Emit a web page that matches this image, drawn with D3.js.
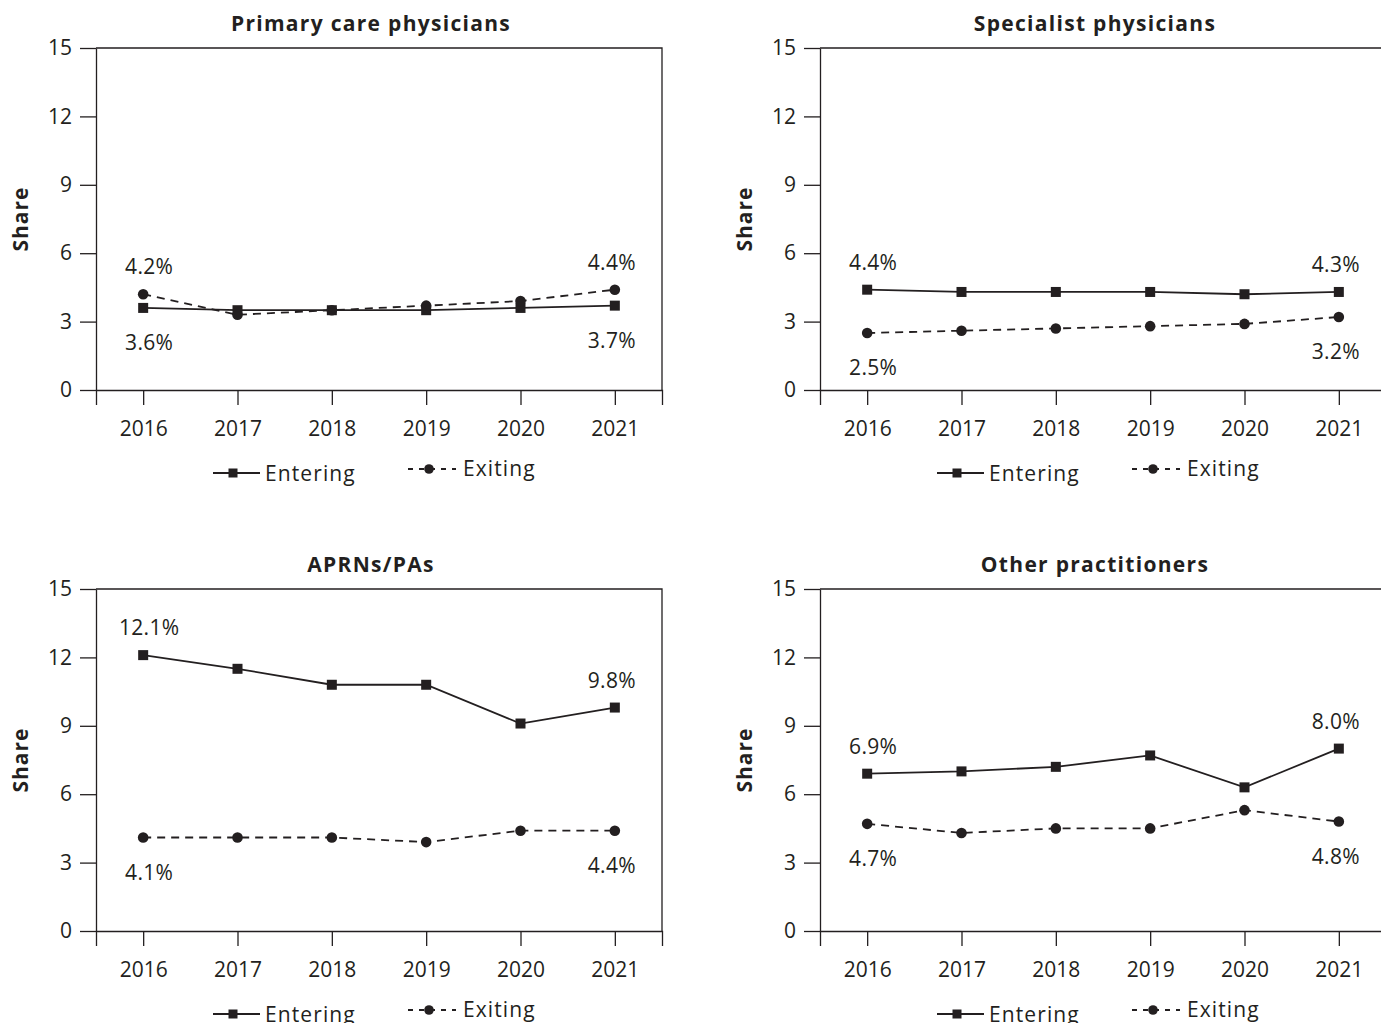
<!DOCTYPE html>
<html><head><meta charset="utf-8">
<script src="https://cdn.jsdelivr.net/npm/d3@7"></script>
<style>
html,body{margin:0;padding:0;background:#fff;}
svg{display:block;}
text{font-family:"Open Sans","Noto Sans",sans-serif;fill:#231f20;}
</style></head>
<body>
<script>
const years = ["2016","2017","2018","2019","2020","2021"];
const yTicks = [0,3,6,9,12,15];
const titles = ["Primary care physicians","Specialist physicians","APRNs/PAs","Other practitioners"];
const entering = [
  [3.6,3.5,3.5,3.5,3.6,3.7],
  [4.4,4.3,4.3,4.3,4.2,4.3],
  [12.1,11.5,10.8,10.8,9.1,9.8],
  [6.9,7.0,7.2,7.7,6.3,8.0]
];
const exiting = [
  [4.2,3.3,3.5,3.7,3.9,4.4],
  [2.5,2.6,2.7,2.8,2.9,3.2],
  [4.1,4.1,4.1,3.9,4.4,4.4],
  [4.7,4.3,4.5,4.5,5.3,4.8]
];
const seriesNames = ["Entering","Exiting"];

const W = 1381, H = 1023;
const ink = "#231f20";
const FONT = '"Open Sans","Noto Sans",sans-serif';
const svg = d3.select("body").append("svg").attr("width",W).attr("height",H);

const plotW = 566, plotH = 342;
const origins = [[96,48],[820,48],[96,589],[820,589]];

const x = d3.scalePoint().domain(years).range([0,plotW]).padding(0.5);
const y = d3.scaleLinear().domain([0,15]).range([plotH,0]);

function styleTicks(sel){
  sel.selectAll("path,line").attr("stroke",ink).attr("stroke-width",1.3);
  sel.selectAll("text").style("font-size","21px").style("font-weight","400")
    .style("font-family",FONT).attr("fill",ink);
}

origins.forEach((o,i)=>{
  const g = svg.append("g").attr("transform",`translate(${o[0]},${o[1]})`);

  // title
  g.append("text").attr("x",275).attr("y",-25).attr("text-anchor","middle")
    .attr("dominant-baseline","central").style("font-weight","700").style("font-size","21px")
    .style("letter-spacing","1.3px").text(titles[i]);

  // y label
  g.append("text").attr("transform",`translate(${-76},${plotH/2}) rotate(-90)`)
    .attr("text-anchor","middle").attr("dominant-baseline","central")
    .style("font-weight","700").style("font-size","21px").style("letter-spacing","1px").text("Share");

  // frame top and right
  g.append("path").attr("d",`M0,0H${plotW}V${plotH}`).attr("fill","none")
    .attr("stroke",ink).attr("stroke-width",1.3);

  // y axis
  const ya = g.append("g").call(d3.axisLeft(y).tickValues(yTicks).tickSize(16).tickSizeOuter(0).tickPadding(8));
  styleTicks(ya);

  // x axis
  const xa = g.append("g").attr("transform",`translate(0,${plotH})`)
    .call(d3.axisBottom(x).tickSize(15).tickSizeOuter(15).tickPadding(16));
  styleTicks(xa);

  const line = d3.line().x((d,j)=>x(years[j])).y(d=>y(d));

  // exiting dashed
  g.append("path").datum(exiting[i]).attr("d",line).attr("fill","none")
    .attr("stroke",ink).attr("stroke-width",1.8).attr("stroke-dasharray","8,6");
  // entering solid
  g.append("path").datum(entering[i]).attr("d",line).attr("fill","none")
    .attr("stroke",ink).attr("stroke-width",1.8);

  g.selectAll("rect.m").data(entering[i]).join("rect").attr("class","m")
    .attr("x",(d,j)=>x(years[j])-5).attr("y",d=>y(d)-5)
    .attr("width",10).attr("height",10).attr("fill",ink);
  g.selectAll("circle.m").data(exiting[i]).join("circle").attr("class","m")
    .attr("cx",(d,j)=>x(years[j])).attr("cy",d=>y(d)).attr("r",5.3).attr("fill",ink);

  // end labels: higher series above, lower series below
  [0,years.length-1].forEach(j=>{
    const e = entering[i][j], xv = exiting[i][j];
    const hi = Math.max(e,xv), lo = Math.min(e,xv);
    const dx = j===0 ? 6 : -3;
    g.append("text").attr("x",x(years[j])+dx).attr("y",y(hi)-28)
      .attr("text-anchor","middle").attr("dominant-baseline","central")
      .style("font-size","21px").style("font-weight","400").style("letter-spacing","0.3px")
      .text(d3.format(".1f")(hi)+"%");
    g.append("text").attr("x",x(years[j])+dx).attr("y",y(lo)+34)
      .attr("text-anchor","middle").attr("dominant-baseline","central")
      .style("font-size","21px").style("font-weight","400").style("letter-spacing","0.3px")
      .text(d3.format(".1f")(lo)+"%");
  });

  // legend
  const lg = g.append("g").attr("transform",`translate(0,${plotH})`);
  lg.append("line").attr("x1",117).attr("x2",164).attr("y1",83).attr("y2",83)
    .attr("stroke",ink).attr("stroke-width",1.8);
  lg.append("rect").attr("x",137-4.5).attr("y",83-4.5).attr("width",9).attr("height",9).attr("fill",ink);
  lg.append("text").attr("x",169).attr("y",83).attr("dominant-baseline","central")
    .style("font-size","21px").style("font-weight","400").style("letter-spacing","1.1px").text(seriesNames[0]);
  lg.append("line").attr("x1",312).attr("x2",360).attr("y1",79).attr("y2",79)
    .attr("stroke",ink).attr("stroke-width",1.8).attr("stroke-dasharray","5,6");
  lg.append("circle").attr("cx",333).attr("cy",79).attr("r",4.8).attr("fill",ink);
  lg.append("text").attr("x",367).attr("y",78).attr("dominant-baseline","central")
    .style("font-size","21px").style("font-weight","400").style("letter-spacing","1.1px").text(seriesNames[1]);
});
</script>
</body></html>
